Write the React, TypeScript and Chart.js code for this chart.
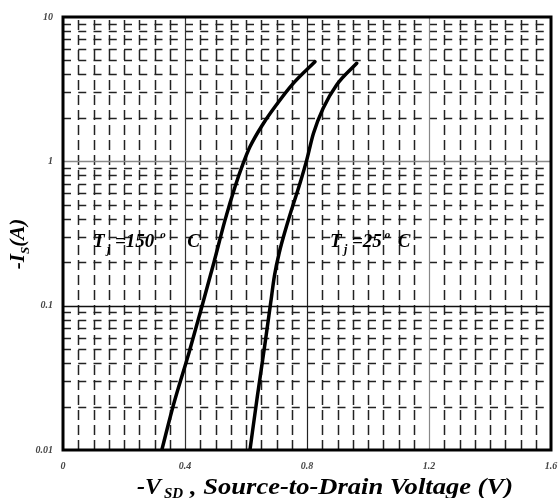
import React, { useEffect, useRef } from "react";
import { Chart, registerables } from "chart.js";

Chart.register(...registerables);

// Tj = 150 °C curve: -VSD (V) and -IS (A)
const v150 = [0.324, 0.362, 0.414, 0.455, 0.495, 0.531, 0.564, 0.591, 0.613, 0.657, 0.695, 0.755, 0.826];
const i150 = [0.01, 0.0205, 0.048, 0.098, 0.2, 0.39, 0.667, 0.97, 1.26, 1.83, 2.39, 3.47, 4.9];
// Tj = 25 °C curve
const v25 = [0.613, 0.637, 0.662, 0.681, 0.693, 0.708, 0.739, 0.777, 0.799, 0.821, 0.853, 0.897, 0.963];
const i25 = [0.01, 0.0234, 0.054, 0.105, 0.16, 0.228, 0.392, 0.705, 1.02, 1.56, 2.33, 3.38, 4.78];

const xTicks = [0, 0.4, 0.8, 1.2, 1.6];
const yTicks = [0.01, 0.1, 1, 10];
const xMinorStep = 0.05;
const yMinorMultipliers = [2, 3, 4, 5, 6, 7, 8, 9];
const yDecades = [0.01, 0.1, 1];

// annotation texts and anchors (data coords)
const labelTexts = [
  { x: 0.098, y: 0.255, digits: "150" },
  { x: 0.875, y: 0.255, digits: "25" },
];

const SERIF = "'Liberation Serif', 'DejaVu Serif', serif";

const customPlugin = {
  id: "custom",
  beforeDatasetsDraw(chart: any) {
    const ctx = chart.ctx;
    const xs = chart.scales.x;
    const ys = chart.scales.y;
    const { left, right, top, bottom } = chart.chartArea;
    ctx.save();
    ctx.strokeStyle = "#222";
    ctx.lineWidth = 1.5;
    ctx.setLineDash([10, 5]);
    const nx = Math.round(1.6 / xMinorStep);
    for (let k = 1; k < nx; k++) {
      const v = k * xMinorStep;
      if (xTicks.some((t) => Math.abs(t - v) < 1e-6)) continue;
      const x = Math.round(xs.getPixelForValue(v)) + 0.5;
      ctx.beginPath();
      ctx.moveTo(x, bottom);
      ctx.lineTo(x, top);
      ctx.stroke();
    }
    ctx.setLineDash([8, 7.25]);
    for (const d of yDecades) {
      for (const m of yMinorMultipliers) {
        const y = Math.round(ys.getPixelForValue(m * d)) + 0.5;
        ctx.beginPath();
        ctx.moveTo(left, y);
        ctx.lineTo(right, y);
        ctx.stroke();
      }
    }
    ctx.setLineDash([]);
    const vCols: Record<string, string> = { "0.4": "#333", "0.8": "#222", "1.2": "#888" };
    for (const t of xTicks) {
      if (t === 0 || t === 1.6) continue;
      const x = Math.round(xs.getPixelForValue(t)) + 0.5;
      ctx.strokeStyle = vCols[String(t)] || "#333";
      ctx.lineWidth = 1.2;
      ctx.beginPath();
      ctx.moveTo(x, bottom);
      ctx.lineTo(x, top);
      ctx.stroke();
    }
    const hCols: Record<string, string> = { "0.1": "#111", "1": "#888" };
    for (const t of yTicks) {
      if (t === 0.01 || t === 10) continue;
      const y = Math.round(ys.getPixelForValue(t)) + 0.5;
      ctx.strokeStyle = hCols[String(t)] || "#333";
      ctx.lineWidth = 1.5;
      ctx.beginPath();
      ctx.moveTo(left, y);
      ctx.lineTo(right, y);
      ctx.stroke();
    }
    ctx.restore();
  },
  afterDatasetsDraw(chart: any) {
    const ctx = chart.ctx;
    const xs = chart.scales.x;
    const ys = chart.scales.y;
    const { left, right, top, bottom } = chart.chartArea;
    ctx.save();
    ctx.strokeStyle = "#000";
    ctx.lineWidth = 3;
    ctx.strokeRect(left, top, right - left, bottom - top);

    ctx.fillStyle = "#000";
    ctx.textBaseline = "alphabetic";
    ctx.textAlign = "left";
    const big = `italic bold 19px ${SERIF}`;
    for (const lab of labelTexts) {
      const px = xs.getPixelForValue(lab.x);
      const py = ys.getPixelForValue(lab.y);
      ctx.font = big;
      ctx.fillText("T", px, py);
      ctx.font = `italic bold 12px ${SERIF}`;
      ctx.fillText("j", px + 14, py + 6);
      ctx.font = big;
      ctx.fillText("=", px + 22, py);
      const eqW = ctx.measureText("=").width;
      ctx.fillText(lab.digits, px + 22 + eqW, py);
      const dW = ctx.measureText(lab.digits).width;
      const supX = px + 22 + eqW + dW + (lab.digits.length === 3 ? 6 : 3);
      ctx.font = `italic bold 11px ${SERIF}`;
      ctx.fillText("o", supX, py - 9);
      ctx.font = big;
      ctx.fillText("C", supX + (lab.digits.length === 3 ? 27 : 13), py);
    }

    // x title
    const base = 494;
    ctx.font = `italic bold 24px ${SERIF}`;
    ctx.fillText("-V", 137, base);
    ctx.font = `italic bold 15px ${SERIF}`;
    ctx.fillText("SD", 164, base + 4);
    ctx.font = `italic bold 24px ${SERIF}`;
    const rest = ", Source-to-Drain Voltage (V)";
    const rw = ctx.measureText(rest).width;
    const target = 513 - 190;
    ctx.save();
    ctx.translate(190, base);
    ctx.scale(target / rw, 1);
    ctx.fillText(rest, 0, 0);
    ctx.restore();

    // y title
    ctx.save();
    ctx.translate(24, 244);
    ctx.rotate(-Math.PI / 2);
    const yparts = [
      { t: "-I", f: `italic bold 21px ${SERIF}`, dy: 0 },
      { t: "S", f: `italic bold 13px ${SERIF}`, dy: 5 },
      { t: "(A)", f: `italic bold 21px ${SERIF}`, dy: 0 },
    ];
    let tw = 0;
    for (const p of yparts) {
      ctx.font = p.f;
      tw += ctx.measureText(p.t).width;
    }
    let yx = -tw / 2;
    for (const p of yparts) {
      ctx.font = p.f;
      ctx.fillText(p.t, yx, p.dy);
      yx += ctx.measureText(p.t).width;
    }
    ctx.restore();
    ctx.restore();
  },
};

export default function App() {
  const ref = useRef<HTMLCanvasElement | null>(null);
  useEffect(() => {
    if (!ref.current) return;
    const tickFont = { family: SERIF, size: 10, style: "italic" as const, weight: "bold" as const };
    const lineDs = (label: string, xsArr: number[], ysArr: number[]) => ({
      label,
      data: xsArr.map((v, i) => ({ x: v, y: ysArr[i] })),
      borderColor: "#000",
      borderWidth: 3.5,
      pointRadius: 0,
      cubicInterpolationMode: "monotone" as const,
      borderCapStyle: "round" as const,
      borderJoinStyle: "round" as const,
    });
    const chart = new Chart(ref.current, {
      type: "line",
      data: {
        datasets: [lineDs("Tj=150°C", v150, i150), lineDs("Tj=25°C", v25, i25)],
      },
      options: {
        animation: false,
        responsive: false,
        maintainAspectRatio: false,
        layout: { padding: { left: 0, top: 17, right: 7, bottom: 0 } },
        plugins: { legend: { display: false }, tooltip: { enabled: false } },
        scales: {
          x: {
            type: "linear",
            min: 0,
            max: 1.6,
            grid: { display: false, drawTicks: false },
            border: { display: false },
            afterBuildTicks: (s: any) => {
              s.ticks = xTicks.map((v) => ({ value: v }));
            },
            afterFit: (s: any) => {
              s.height = 48;
              s.paddingLeft = 0;
              s.paddingRight = 0;
            },
            ticks: {
              padding: 10,
              color: "#444",
              font: tickFont,
              maxRotation: 0,
              autoSkip: false,
              callback: (v: any) => String(v),
            },
          },
          y: {
            type: "logarithmic",
            min: 0.01,
            max: 10,
            grid: { display: false, drawTicks: false },
            border: { display: false },
            afterBuildTicks: (s: any) => {
              s.ticks = yTicks.map((v) => ({ value: v }));
            },
            afterFit: (s: any) => {
              s.width = 63;
              s.paddingTop = 0;
              s.paddingBottom = 0;
            },
            ticks: {
              padding: 10,
              color: "#444",
              font: tickFont,
              autoSkip: false,
              callback: (v: any) => String(v),
            },
          },
        },
      },
      plugins: [customPlugin],
    });
    return () => chart.destroy();
  }, []);
  return (
    <div style={{ position: "absolute", left: 0, top: 0, width: 558, height: 498, background: "#fff" }}>
      <canvas ref={ref} width={558} height={498} style={{ width: 558, height: 498 }} />
    </div>
  );
}
